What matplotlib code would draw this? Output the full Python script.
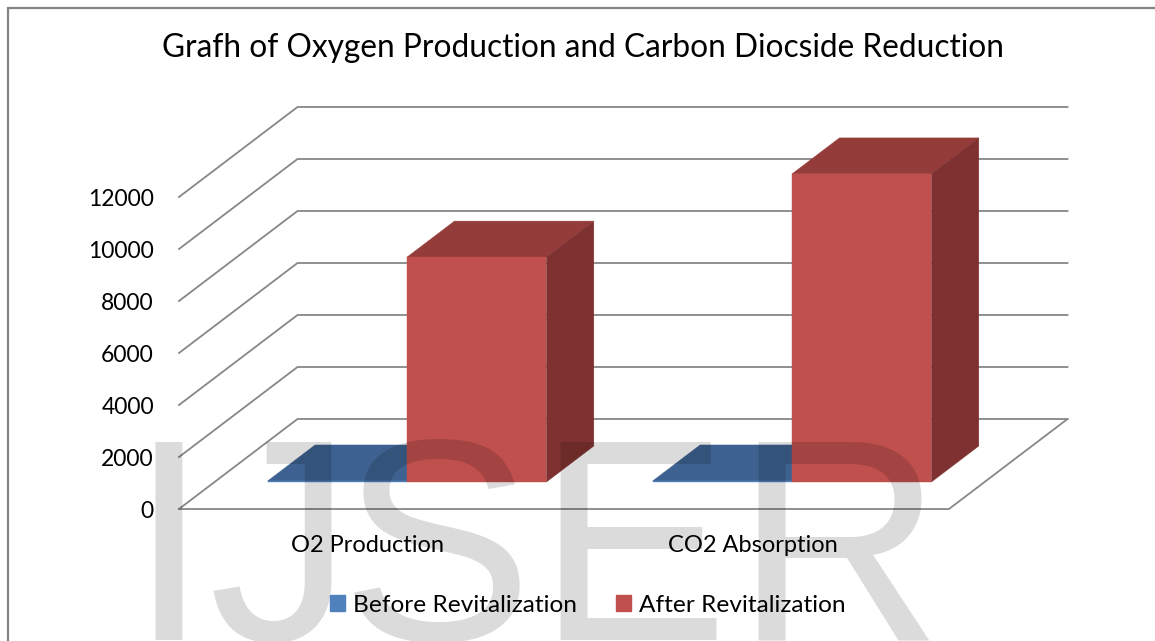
import matplotlib
matplotlib.use("Agg")
import matplotlib.pyplot as plt
from matplotlib.patches import Polygon, Rectangle, Patch

# ---------------- data ----------------
categories = ["O2 Production", "CO2 Absorption"]
series_names = ["Before Revitalization", "After Revitalization"]
before_values = [40, 40]
after_values = [8650, 11850]
y_ticks = [0, 2000, 4000, 6000, 8000, 10000, 12000]
title_text = "Grafh of Oxygen Production and Carbon Diocside Reduction"
watermark_text = "IJSER"

# ---------------- styling ----------------
W, H, DPI = 1155, 641, 100
FONT = "Lato"
GRID = "#878787"
BLUE, BLUE_TOP = "#4F81BD", "#3D6190"
RED, RED_TOP, RED_SIDE = "#C0504D", "#943C3A", "#7E3130"

fig = plt.figure(figsize=(W / DPI, H / DPI), dpi=DPI)
fig.patch.set_facecolor("white")

def fx(px):
    return px / W

def fy(py):
    return 1 - py / H

# front plane of the 3-D box
ax = fig.add_axes([fx(179), fy(509), fx(949) - fx(179), fy(197) - fy(509)])
ax.set_xlim(0, len(categories))
ax.set_ylim(0, y_ticks[-1])
ax.patch.set_alpha(0)
for s in ax.spines.values():
    s.set_visible(False)

px_per_cat = 770 / len(categories)
px_per_val = 312 / y_ticks[-1]
DX = 118.5 / px_per_cat     # category units per unit depth
DY = 90 / px_per_val        # value units per unit depth

def P(x, v, d):
    return (x + d * DX, v + d * DY)

# walls / gridlines
for v in y_ticks:
    xs, ys = zip(P(0, v, 0), P(0, v, 1), P(len(categories), v, 1))
    ax.plot(xs, ys, color=GRID, lw=1.3, clip_on=False, zorder=1)
# floor outline
xs, ys = zip(P(0, 0, 0), P(len(categories), 0, 0), P(len(categories), 0, 1))
ax.plot(xs, ys, color=GRID, lw=1.3, clip_on=False, zorder=1)

# bars
bw = 0.362
d0, d1 = 0.30, 0.70

def box(x0, x1, v, front, top, side, z):
    faces = [
        ([P(x0, v, d0), P(x1, v, d0), P(x1, v, d1), P(x0, v, d1)], top),
        ([P(x1, 0, d0), P(x1, 0, d1), P(x1, v, d1), P(x1, v, d0)], side),
        ([P(x0, 0, d0), P(x1, 0, d0), P(x1, v, d0), P(x0, v, d0)], front),
    ]
    for pts, c in faces:
        ax.add_patch(Polygon(pts, closed=True, facecolor=c, edgecolor=c,
                             lw=0.3, clip_on=False, zorder=z))

for i, cat in enumerate(categories):
    c = i + 0.5
    box(c - bw, c, before_values[i], BLUE, BLUE_TOP, BLUE_TOP, 3 + i * 2)
    box(c, c + bw, after_values[i], RED, RED_TOP, RED_SIDE, 4 + i * 2)

# axis labels
ax.set_yticks(y_ticks)
ax.set_yticklabels([str(v) for v in y_ticks])
ax.set_xticks([i + 0.5 - 0.01 for i in range(len(categories))])
ax.set_xticklabels(categories)
ax.tick_params(axis="y", length=0, pad=18, labelsize=16.5)
ax.tick_params(axis="x", length=0, pad=19, labelsize=17)
for lab in ax.get_xticklabels() + ax.get_yticklabels():
    lab.set_fontfamily(FONT)

# title
fig.text(fx(583), fy(48), title_text, ha="center", va="center",
         fontsize=22.8, fontfamily=FONT, color="black")

# legend
handles = [Patch(facecolor=BLUE, edgecolor=BLUE), Patch(facecolor=RED, edgecolor=RED)]
leg = fig.legend(handles, series_names, loc="center", ncol=2,
                 bbox_to_anchor=(fx(588), fy(605)), frameon=False,
                 prop={"family": FONT, "size": 17.6},
                 handlelength=0.6, handleheight=0.6, handletextpad=0.33,
                 columnspacing=1.6, borderpad=0)

# border of chart area
fig.add_artist(Rectangle((fx(8), fy(H + 20)), 1.2, fy(8) - fy(H + 20),
                         transform=fig.transFigure, fill=False,
                         edgecolor="#848484", lw=1.6, zorder=0))

# watermark (multiplicative grey ~ black with low alpha), letters spaced as in the page
wm_centers = [168, 280, 437, 632, 838]
for ch, cx in zip(watermark_text, wm_centers):
    fig.text(fx(cx), fy(640), ch, ha="center", va="baseline",
             fontsize=207, fontfamily="Liberation Sans", color="black",
             alpha=0.14, zorder=20)

fig.savefig("out.png", dpi=DPI, facecolor="white")
